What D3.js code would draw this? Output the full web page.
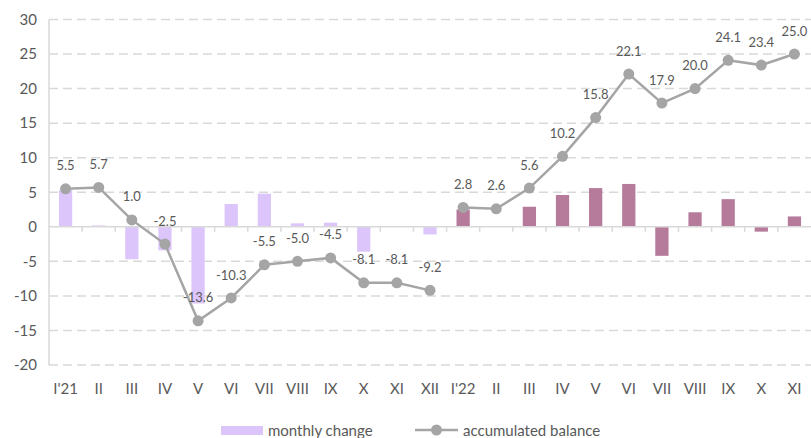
<!DOCTYPE html>
<html>
<head>
<meta charset="utf-8">
<script src="https://cdn.jsdelivr.net/npm/d3@7"></script>
<style>
  body { margin: 0; background: #fff; }
  svg { font-family: Lato, "Open Sans", sans-serif; }
</style>
</head>
<body>
<div id="chart"></div>
<script>
// ---- data ----
const categories = ["I'21", 'II', 'III', 'IV', 'V', 'VI', 'VII', 'VIII', 'IX', 'X', 'XI', 'XII',
  "I'22", 'II ', 'III ', 'IV ', 'V ', 'VI ', 'VII ', 'VIII ', 'IX ', 'X ', 'XI '];
const yearOf = [2021, 2021, 2021, 2021, 2021, 2021, 2021, 2021, 2021, 2021, 2021, 2021,
  2022, 2022, 2022, 2022, 2022, 2022, 2022, 2022, 2022, 2022, 2022];
const monthlyChange = [5.3, 0.2, -4.7, -3.4, -11.1, 3.3, 4.8, 0.5, 0.6, -3.6, 0.1, -1.1,
  2.5, 0.0, 2.9, 4.6, 5.6, 6.2, -4.2, 2.1, 4.0, -0.7, 1.5];
const accumulated = [5.5, 5.7, 1.0, -2.5, -13.6, -10.3, -5.5, -5.0, -4.5, -8.1, -8.1, -9.2,
  2.8, 2.6, 5.6, 10.2, 15.8, 22.1, 17.9, 20.0, 24.1, 23.4, 25.0];
const yTicks = [-20, -15, -10, -5, 0, 5, 10, 15, 20, 25, 30];
const legendLabels = ['monthly change', 'accumulated balance'];

const barColor = { 2021: '#dcc5fb', 2022: '#b67a9b' };
const lineColor = '#a5a5a5';
const textColor = '#595959';

const W = 811, H = 438;
const data = categories.map((c, i) => ({
  cat: c, year: yearOf[i], change: monthlyChange[i], acc: accumulated[i]
}));

// plain hyphen minus, like the original
const fmt = (v) => v.toFixed(1);

const svg = d3.select('#chart').append('svg').attr('width', W).attr('height', H);

const x = d3.scaleBand().domain(categories).range([49, 811]).paddingInner(0.6).paddingOuter(0.3);
const y = d3.scaleLinear().domain([-20, 30]).range([365, 19.5]);
const step = x.step();

// gridlines
svg.append('g')
  .selectAll('line')
  .data(yTicks.filter((t) => t !== 0))
  .join('line')
  .attr('x1', 49).attr('x2', W)
  .attr('y1', (d) => y(d)).attr('y2', (d) => y(d))
  .attr('stroke', '#d9d9d9')
  .attr('stroke-width', 1.5)
  .attr('stroke-dasharray', '9,5');

// left axis line
svg.append('line')
  .attr('x1', 49).attr('x2', 49)
  .attr('y1', y(30)).attr('y2', y(-20))
  .attr('stroke', '#d9d9d9').attr('stroke-width', 1.5);

// y tick labels
svg.append('g')
  .selectAll('text')
  .data(yTicks)
  .join('text')
  .attr('x', 37)
  .attr('y', (d) => y(d))
  .attr('dy', '0.35em')
  .attr('text-anchor', 'end')
  .attr('fill', textColor)
  .style('font-size', '15px')
  .text((d) => String(d));

// bars
svg.append('g')
  .selectAll('rect')
  .data(data)
  .join('rect')
  .attr('x', (d) => x(d.cat))
  .attr('width', x.bandwidth())
  .attr('y', (d) => y(Math.max(0, d.change)))
  .attr('height', (d) => Math.abs(y(d.change) - y(0)))
  .attr('fill', (d) => barColor[d.year]);

// zero line with ticks
svg.append('line')
  .attr('x1', 49).attr('x2', W)
  .attr('y1', y(0)).attr('y2', y(0))
  .attr('stroke', '#d9d9d9').attr('stroke-width', 1.5);
svg.append('g')
  .selectAll('line')
  .data(categories.slice(1))
  .join('line')
  .attr('x1', (d) => x(d) - (step - x.bandwidth()) / 2)
  .attr('x2', (d) => x(d) - (step - x.bandwidth()) / 2)
  .attr('y1', y(0)).attr('y2', y(0) + 5)
  .attr('stroke', '#d9d9d9').attr('stroke-width', 1.5);

// x labels
svg.append('g')
  .selectAll('text')
  .data(data)
  .join('text')
  .attr('x', (d) => x(d.cat) + x.bandwidth() / 2)
  .attr('y', 389)
  .attr('dy', '0.35em')
  .attr('text-anchor', 'middle')
  .attr('fill', textColor)
  .style('font-size', '15px')
  .text((d) => d.cat.trim());

// accumulated lines, one per year
const line = d3.line()
  .x((d) => x(d.cat) + x.bandwidth() / 2)
  .y((d) => y(d.acc));
const byYear = d3.groups(data, (d) => d.year);
svg.append('g')
  .selectAll('path')
  .data(byYear)
  .join('path')
  .attr('d', (d) => line(d[1]))
  .attr('fill', 'none')
  .attr('stroke', lineColor)
  .attr('stroke-width', 2.5);

svg.append('g')
  .selectAll('circle')
  .data(data)
  .join('circle')
  .attr('cx', (d) => x(d.cat) + x.bandwidth() / 2)
  .attr('cy', (d) => y(d.acc))
  .attr('r', 5.5)
  .attr('fill', lineColor);

// value labels
svg.append('g')
  .selectAll('text')
  .data(data)
  .join('text')
  .attr('x', (d) => x(d.cat) + x.bandwidth() / 2)
  .attr('y', (d) => y(d.acc) - 23)
  .attr('dy', '0.35em')
  .attr('text-anchor', 'middle')
  .attr('fill', textColor)
  .style('font-size', '13px')
  .text((d) => fmt(d.acc));

// legend
const lg = svg.append('g');
lg.append('rect')
  .attr('x', 221).attr('y', 426).attr('width', 42).attr('height', 9)
  .attr('fill', barColor[2021]);
lg.append('text')
  .attr('x', 268).attr('y', 431).attr('dy', '0.35em')
  .attr('fill', textColor).style('font-size', '15px')
  .text(legendLabels[0]);
lg.append('line')
  .attr('x1', 415).attr('x2', 458).attr('y1', 430).attr('y2', 430)
  .attr('stroke', lineColor).attr('stroke-width', 2.5);
lg.append('circle')
  .attr('cx', 436.5).attr('cy', 430).attr('r', 5.5).attr('fill', lineColor);
lg.append('text')
  .attr('x', 463).attr('y', 431).attr('dy', '0.35em')
  .attr('fill', textColor).style('font-size', '15px')
  .text(legendLabels[1]);
</script>
</body>
</html>
